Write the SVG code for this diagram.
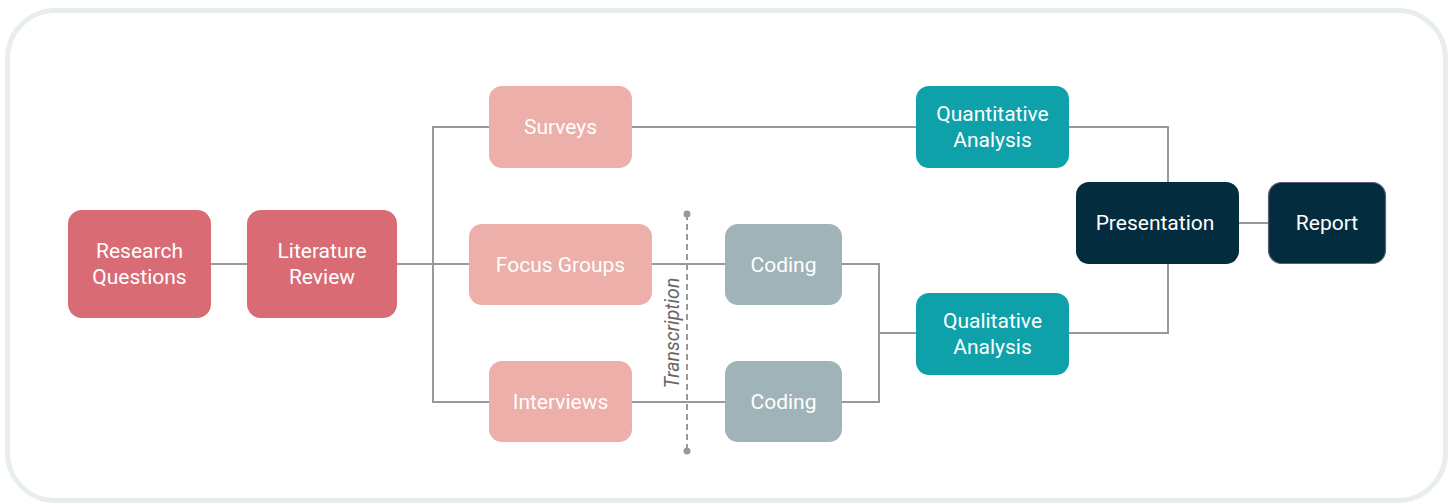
<svg xmlns="http://www.w3.org/2000/svg" width="1453" height="504" viewBox="0 0 1453 504">
<style>
.n text{font-family:Roboto,"Liberation Sans",sans-serif;font-size:21px;fill:#ffffff;text-anchor:middle;dominant-baseline:central}
.red rect{fill:#d96b74}
.pink rect{fill:#ecafa9}
.grey rect{fill:#a0b3b8}
.teal rect{fill:#0fa1aa}
.dark rect{fill:#032d3e}
.c{fill:none;stroke:#999999;stroke-width:2}
</style>
<rect x="7.5" y="10.5" width="1438" height="490" rx="48" fill="#ffffff" stroke="#e8eeee" stroke-width="5"/>
<g id="connectors">
<path class="c" d="M211 264H247"/>
<path class="c" d="M397 264H469"/>
<path class="c" d="M489 127H433V402H489"/>
<path class="c" d="M632 127H916"/>
<path class="c" d="M652 264H725"/>
<path class="c" d="M632 402H725"/>
<path class="c" d="M842 264H879V402H842"/>
<path class="c" d="M879 333H916"/>
<path class="c" d="M1068 127H1168V182"/>
<path class="c" d="M1068 333H1168V264"/>
<path class="c" d="M1239 223H1268"/>
<path d="M687 214V451" fill="none" stroke="#999999" stroke-width="2" stroke-dasharray="6,4"/>
<circle cx="687" cy="214" r="3.5" fill="#999999"/>
<circle cx="687" cy="451" r="3.5" fill="#999999"/>
<text x="0" y="0" transform="translate(672 333) rotate(-90)" font-family="Roboto,'Liberation Sans',sans-serif" font-size="19.5" font-style="italic" fill="#666666" text-anchor="middle" dominant-baseline="central">Transcription</text>
</g>
<g id="research-questions" class="n red"><rect x="68" y="210" width="143" height="108" rx="14"/><text x="139.5" y="251">Research</text><text x="139.5" y="277">Questions</text></g>
<g id="literature-review" class="n red"><rect x="247" y="210" width="150" height="108" rx="14"/><text x="322" y="251">Literature</text><text x="322" y="277">Review</text></g>
<g id="surveys" class="n pink"><rect x="489" y="86" width="143" height="82" rx="13"/><text x="560.5" y="127">Surveys</text></g>
<g id="focus-groups" class="n pink"><rect x="469" y="224" width="183" height="81" rx="13"/><text x="560.5" y="264.5">Focus Groups</text></g>
<g id="interviews" class="n pink"><rect x="489" y="361" width="143" height="81" rx="13"/><text x="560.5" y="401.5">Interviews</text></g>
<g id="coding-1" class="n grey"><rect x="725" y="224" width="117" height="81" rx="13"/><text x="783.5" y="264.5">Coding</text></g>
<g id="coding-2" class="n grey"><rect x="725" y="361" width="117" height="81" rx="13"/><text x="783.5" y="401.5">Coding</text></g>
<g id="quantitative-analysis" class="n teal"><rect x="916" y="86" width="153" height="82" rx="13"/><text x="992.5" y="114">Quantitative</text><text x="992.5" y="140">Analysis</text></g>
<g id="qualitative-analysis" class="n teal"><rect x="916" y="293" width="153" height="82" rx="13"/><text x="992.5" y="321">Qualitative</text><text x="992.5" y="347">Analysis</text></g>
<g id="presentation" class="n dark"><rect x="1076" y="182" width="163" height="82" rx="13"/><text x="1155" y="223">Presentation</text></g>
<g id="report" class="n dark"><rect x="1268.5" y="182.5" width="117" height="81" rx="13" stroke="#5c5f70" stroke-width="1.2"/><text x="1327" y="223">Report</text></g>
</svg>
